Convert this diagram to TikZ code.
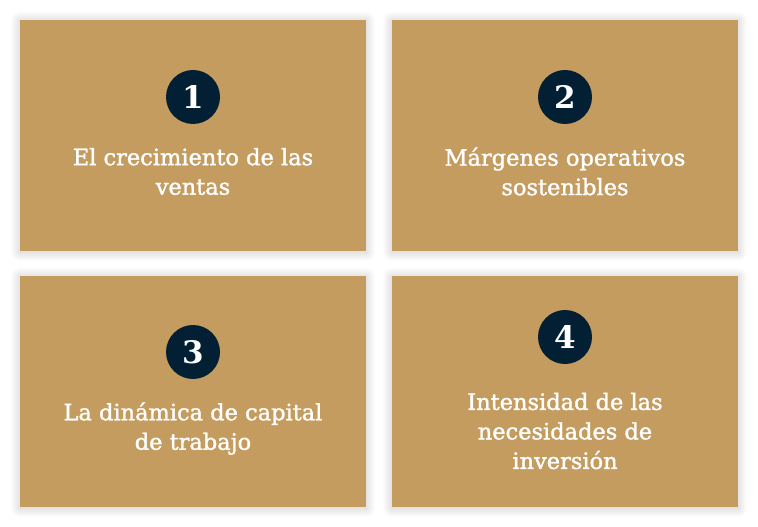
\documentclass[tikz,border=0pt]{standalone}
\usepackage{fontspec}
\setmainfont{DejaVu Serif}
\newfontfamily\lblfont[FakeBold=1.4]{DejaVu Serif}
\definecolor{tan}{HTML}{C59C5F}
\definecolor{navy}{HTML}{031F33}
\tikzset{
  card/.style={fill=tan, draw=none, minimum width=346bp, minimum height=231bp, anchor=north west, inner sep=0pt},
  shade/.style={fill=black, fill opacity=0.012, draw=none},
  num/.style={circle, fill=navy, minimum size=54bp, inner sep=0pt, text=white, font=\fontsize{31bp}{31bp}\selectfont\bfseries},
  lbl/.style={text=white, align=center, font=\fontsize{22.5bp}{29.5bp}\lblfont, inner sep=0pt}
}
\begin{document}
\begin{tikzpicture}[x=1bp,y=-1bp]
\useasboundingbox[fill=white] (0,0) rectangle (758,527);
\foreach \x/\y in {20/20,392/20,20/276,392/276}{
  \foreach \d in {1,...,9}{
    \fill[shade, rounded corners=\d bp] (\x-\d,\y-\d+1) rectangle (\x+346+\d,\y+231+\d+1);
  }
}
\node[card] (c1) at (20,20) {};
\node[card] (c2) at (392,20) {};
\node[card] (c3) at (20,276) {};
\node[card] (c4) at (392,276) {};
\node[num] (n1) at (193,97) {1};
\node[num] (n2) at (565,97) {2};
\node[num] (n3) at (193,352) {3};
\node[num] (n4) at (565,337) {4};
\node[lbl] (t1) at (193,171.5) {El crecimiento de las\\ventas};
\node[lbl] (t2) at (565,171.5) {Márgenes operativos\\sostenibles};
\node[lbl] (t3) at (193,428.5) {La dinámica de capital\\de trabajo};
\node[lbl] (t4) at (565,431) {Intensidad de las\\necesidades de\\inversión};
\end{tikzpicture}
\end{document}
